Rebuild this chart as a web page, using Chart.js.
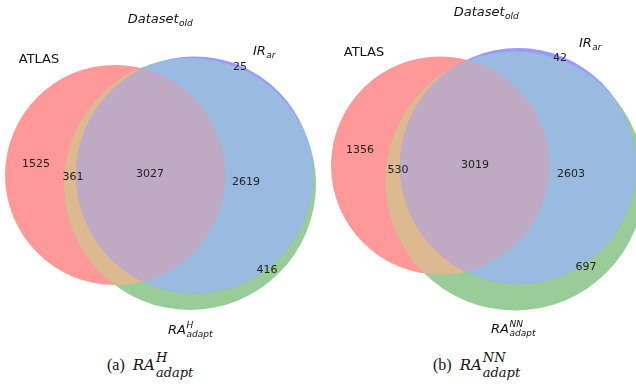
<!DOCTYPE html>
<html>
<head>
<meta charset="utf-8">
<script src="https://cdn.jsdelivr.net/npm/chart.js@4.4.1/dist/chart.umd.min.js"></script>
<style>
  body { margin: 0; background: #fff; width: 636px; height: 387px; position: relative; overflow: hidden; }
  canvas { position: absolute; top: 0; }
  #vennA { left: 0; }
  #vennB { left: 318px; }
  .cap { position: absolute; top: 356px; font-family: "Liberation Serif", "DejaVu Serif", serif; font-size: 16px; line-height: 18px; color: #111; white-space: nowrap; }
  .cap i { font-family: "DejaVu Serif", serif; font-style: italic; font-size: 15px; }
  .ss { display: inline-block; position: relative; font-family: "DejaVu Serif", serif; font-size: 13px; font-style: italic; margin-left: 1px; }
  .ss .u { position: absolute; left: 0; top: -8px; }
  .ss .d { position: relative; top: 7px; }
</style>
</head>
<body>
<canvas id="vennA" width="318" height="345"></canvas>
<canvas id="vennB" width="318" height="345"></canvas>
<div class="cap" style="left:107px">(a)&nbsp; <i>RA</i><span class="ss"><span class="u">H</span><span class="d">adapt</span></span></div>
<div class="cap" style="left:433px">(b)&nbsp; <i>RA</i><span class="ss"><span class="u">NN</span><span class="d">adapt</span></span></div>
<script>
// region order: ATLAS only, ATLAS∩RA, ATLAS∩IR∩RA, IR∩RA, IR only, RA only
const regionNames = ['ATLAS', 'ATLAS+RA', 'ATLAS+IR+RA', 'IR+RA', 'IR', 'RA'];
const countsH = [1525, 361, 3027, 2619, 25, 416];
const countsNN = [1356, 530, 3019, 2603, 42, 697];

// layout: circles [cx, cy, r] for ATLAS, IR, RA (panel units), label spots
const circlesH = [[115, 175, 110], [194.5, 175, 118.5], [190, 184, 126]];
const circlesNN = [[122, 165.5, 109], [200, 166, 118], [197, 181, 129.5]];
const spotsH = [[36, 164], [73, 177], [150, 174], [246, 182], [240, 67], [267, 270]];
const spotsNN = [[42, 150], [80, 170], [157, 165], [253, 174], [242, 58], [268, 267]];
const setSpotsH = { title: [160, 20], atlas: [39, 60], ir: [264, 52], ra: [190, 331] };
const setSpotsNN = { title: [168, 13], atlas: [46, 53], ir: [272, 44], ra: [195, 330] };

// fill colours, painted singles -> pairs -> triple ([circle indices], colour)
const fills = [
  [[0], '#ff9999'],
  [[2], '#99cc99'],
  [[1], '#9999ff'],
  [[0, 2], '#ddb98f'],
  [[1, 2], '#99bbe0'],
  [[0, 1], '#cc99cc'],
  [[0, 1, 2], '#bfaac4']
];

function richLabel(ctx, x, y, base, sub, sup, size, italic) {
  const f = (s) => (italic ? 'italic ' : '') + s + 'px "DejaVu Sans"';
  ctx.font = f(size);
  const bw = ctx.measureText(base).width;
  const small = Math.round(size * 0.72);
  ctx.font = f(small);
  const sw = Math.max(sub ? ctx.measureText(sub).width : 0, sup ? ctx.measureText(sup).width : 0);
  const x0 = x - (bw + sw) / 2;
  ctx.textAlign = 'left';
  ctx.textBaseline = 'middle';
  ctx.font = f(size);
  ctx.fillText(base, x0, y);
  ctx.font = f(small);
  if (sub) ctx.fillText(sub, x0 + bw + 0.5, y + size * 0.3);
  if (sup) ctx.fillText(sup, x0 + bw + 0.5, y - size * 0.42);
}

const vennPlugin = {
  id: 'venn',
  beforeDatasetsDraw(chart, args, opts) {
    const { ctx, scales: { x, y } } = chart;
    const cs = opts.circles.map(c => {
      const px = x.getPixelForValue(c[0]);
      return { px, py: y.getPixelForValue(c[1]), pr: x.getPixelForValue(c[0] + c[2]) - px };
    });
    fills.forEach(([ids, color]) => {
      ctx.save();
      ids.forEach(i => {
        ctx.beginPath();
        ctx.arc(cs[i].px, cs[i].py, cs[i].pr, 0, Math.PI * 2);
        ctx.clip();
      });
      ctx.fillStyle = color;
      ctx.fillRect(0, 0, chart.width, chart.height);
      ctx.restore();
    });
  },
  afterDatasetsDraw(chart, args, opts) {
    const { ctx, scales: { x, y } } = chart;
    const meta = chart.getDatasetMeta(0);
    const counts = chart.data.datasets[0].counts;
    ctx.save();
    ctx.fillStyle = '#222';
    ctx.font = '11px "DejaVu Sans"';
    ctx.textAlign = 'center';
    ctx.textBaseline = 'middle';
    meta.data.forEach((pt, i) => ctx.fillText(String(counts[i]), pt.x, pt.y));
    const s = opts.setSpots;
    const P = (p) => [x.getPixelForValue(p[0]), y.getPixelForValue(p[1])];
    ctx.fillStyle = '#111';
    let p = P(s.title); richLabel(ctx, p[0], p[1], 'Dataset', 'old', null, 13, true);
    p = P(s.atlas); richLabel(ctx, p[0], p[1], 'ATLAS', null, null, 13, false);
    p = P(s.ir); richLabel(ctx, p[0], p[1], 'IR', 'ar', null, 13, true);
    p = P(s.ra); richLabel(ctx, p[0], p[1], 'RA', 'adapt', opts.raSup, 13, true);
    ctx.restore();
  }
};

function makeVenn(id, counts, circles, spots, setSpots, raSup) {
  return new Chart(document.getElementById(id), {
    type: 'scatter',
    data: {
      datasets: [{
        label: 'regions',
        data: spots.map((p, i) => ({ x: p[0], y: p[1], name: regionNames[i] })),
        counts: counts,
        pointRadius: 0,
        pointHoverRadius: 0
      }]
    },
    options: {
      responsive: false,
      animation: false,
      events: [],
      layout: { padding: 0 },
      scales: {
        x: { type: 'linear', min: 0, max: 318, display: false },
        y: { type: 'linear', min: 0, max: 345, reverse: true, display: false }
      },
      plugins: {
        legend: { display: false },
        tooltip: { enabled: false },
        venn: { circles, setSpots, raSup }
      }
    },
    plugins: [vennPlugin]
  });
}

makeVenn('vennA', countsH, circlesH, spotsH, setSpotsH, 'H');
makeVenn('vennB', countsNN, circlesNN, spotsNN, setSpotsNN, 'NN');
</script>
</body>
</html>
